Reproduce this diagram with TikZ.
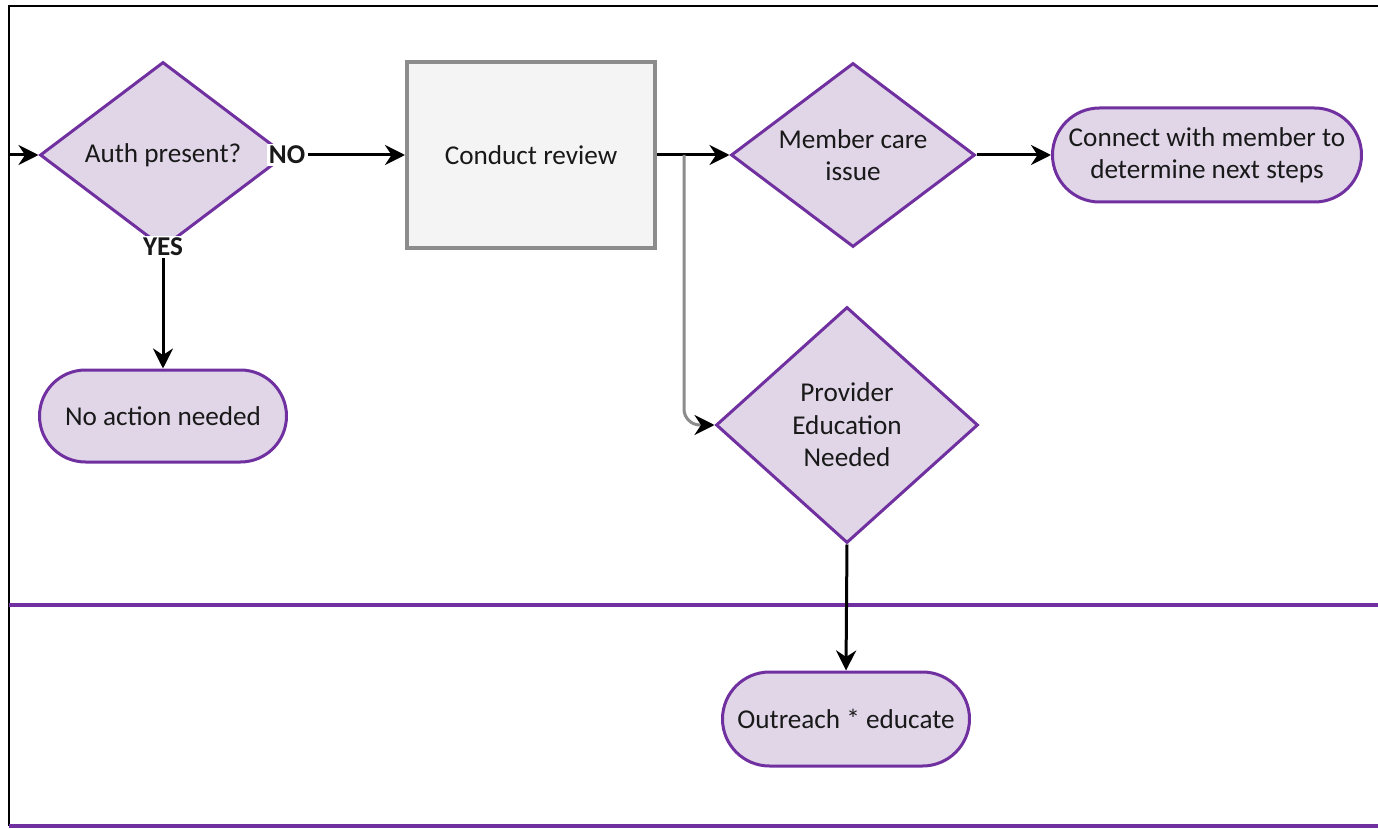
\documentclass[tikz,border=0pt]{standalone}
\usepackage{fontspec}
\setmainfont{Carlito}
\usetikzlibrary{shapes.geometric,shapes.misc,arrows.meta}
\definecolor{pfill}{RGB}{224,214,232}
\definecolor{pline}{RGB}{112,48,160}
\definecolor{gline}{RGB}{140,140,140}
\definecolor{gfill}{RGB}{244,244,244}
\begin{document}
\begin{tikzpicture}[x=0.5pt,y=-0.5pt,
  every node/.style={font=\fontsize{13.6pt}{16.2pt}\selectfont, align=center, text=black!90},
  every label/.style={font=\fontsize{13.6pt}{16.2pt}\selectfont, align=center, text=black!90, inner sep=0pt},
  decision/.style={diamond, draw=pline, fill=pfill, line width=1.5pt, inner sep=0pt},
  term/.style={rounded rectangle, draw=pline, fill=pfill, line width=1.5pt, inner sep=0pt},
  procbox/.style={rectangle, draw=gline, fill=gfill, line width=2pt, inner sep=0pt, minimum width=124pt, minimum height=93pt},
  lbl/.style={fill=white, inner sep=1pt, font=\fontsize{13.6pt}{16pt}\selectfont\bfseries},
  arr/.style={line width=1.5pt, -{Stealth[length=10pt,width=10pt]}},
  ]
\useasboundingbox (0,0) rectangle (1378,829);
% frame
\draw[line width=1pt] (1378,6) -- (9,6) -- (9,826);
\draw[pline, line width=2pt] (9,605) -- (1378,605);
\draw[pline, line width=2pt] (9,826) -- (1378,826);

% nodes
\node[decision, minimum width=123pt, minimum height=93pt, label={center:Auth present?}] (auth) at (163,155) {};
\node[lbl] (no) at (287,155) {NO};
\node[lbl] (yes) at (163,247) {YES};
\node[term, minimum width=123.5pt, minimum height=46pt] (noact) at (163,416) {No action needed};
\node[procbox] (review) at (531,155) {Conduct review};
\node[decision, minimum width=122pt, minimum height=92pt, label={center:Member care\\issue}] (member) at (853,155) {};
\node[term, minimum width=154.5pt, minimum height=47pt] (connect) at (1207,155) {Connect with member to\\determine next steps};
\node[decision, minimum width=131pt, minimum height=118pt, label={center:Provider\\Education\\Needed}] (provider) at (847,425) {};
\node[term, minimum width=123.5pt, minimum height=47pt] (outreach) at (846,719) {Outreach * educate};

\coordinate (start) at (10,155);
\coordinate (branch) at (684,155);

% connectors
\draw[arr] (start) -- (auth.west);
\draw[arr] (no.east) -- (review.west);
\draw[arr] (yes.south) -- (noact.north);
\draw[arr] (review.east) -- (member.west);
\draw[line width=1.5pt, gline, rounded corners=8pt, -{Stealth[length=10pt,width=10pt,color=black]}] (branch) |- (provider.west);
\draw[arr] (member.east) -- (connect.west);
\draw[arr] (provider.south) -- (outreach.north);
\end{tikzpicture}
\end{document}
